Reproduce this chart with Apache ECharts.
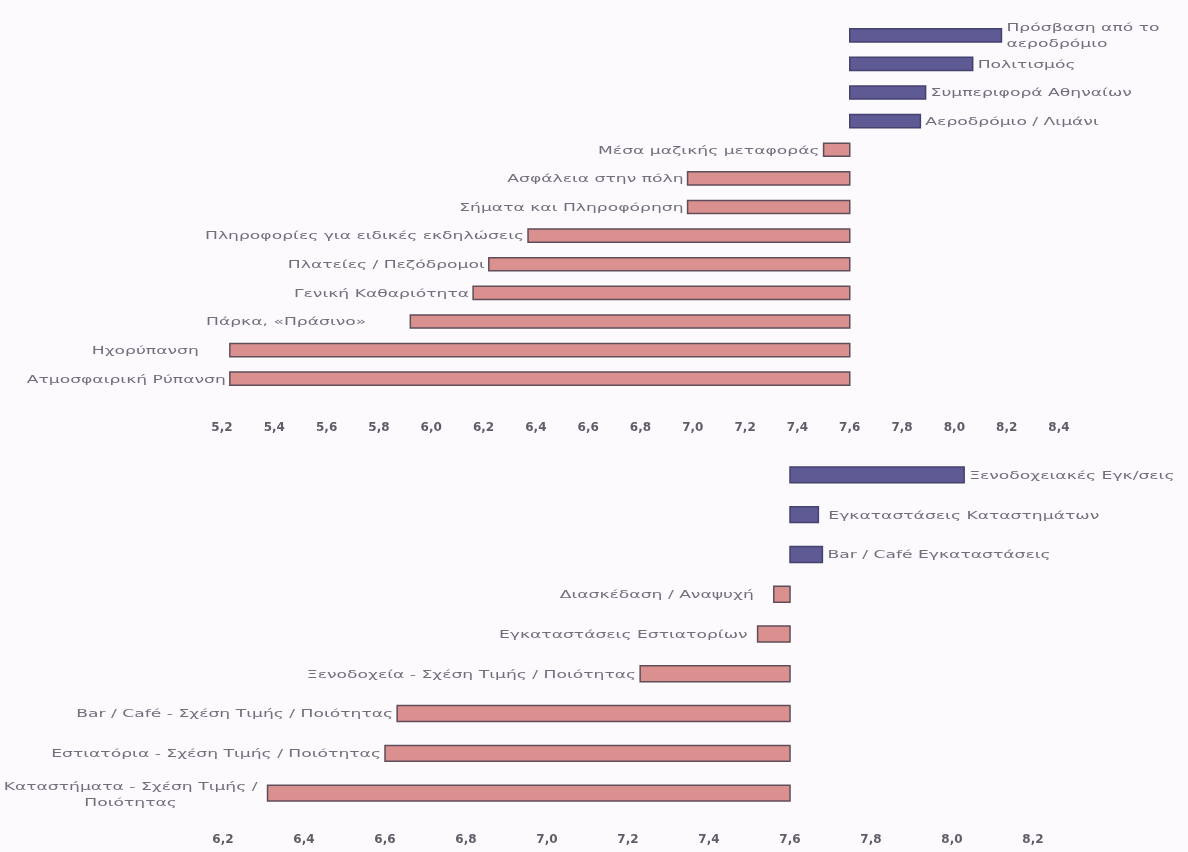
<!DOCTYPE html>
<html>
<head>
<meta charset="utf-8">
<script src="https://cdn.jsdelivr.net/npm/echarts@6/dist/echarts.min.js"></script>
<style>
  html, body { margin: 0; padding: 0; background: #fdfafd; }
  #chart { width: 1188px; height: 852px; }
</style>
</head>
<body>
<div id="chart"></div>
<script>
// Satisfaction scores, bars diverge from the 7.6 reference value
const BASE = 7.6;

const cityCategories = [
  'Πρόσβαση από το\nαεροδρόμιο',
  'Πολιτισμός',
  'Συμπεριφορά Αθηναίων',
  'Αεροδρόμιο / Λιμάνι',
  'Μέσα μαζικής μεταφοράς',
  'Ασφάλεια στην πόλη',
  'Σήματα και Πληροφόρηση',
  'Πληροφορίες για ειδικές εκδηλώσεις',
  'Πλατείες / Πεζόδρομοι',
  'Γενική Καθαριότητα',
  'Πάρκα, «Πράσινο»',
  'Ηχορύπανση',
  'Ατμοσφαιρική Ρύπανση'
];
const cityValues = [8.18, 8.07, 7.89, 7.87, 7.50, 6.98, 6.98, 6.37, 6.22, 6.16, 5.92, 5.23, 5.23];

const serviceCategories = [
  'Ξενοδοχειακές Εγκ/σεις',
  'Εγκαταστάσεις Καταστημάτων',
  'Bar / Café Εγκαταστάσεις',
  'Διασκέδαση / Αναψυχή',
  'Εγκαταστάσεις Εστιατορίων',
  'Ξενοδοχεία - Σχέση Τιμής / Ποιότητας',
  'Bar / Café - Σχέση Τιμής / Ποιότητας',
  'Εστιατόρια - Σχέση Τιμής / Ποιότητας',
  'Καταστήματα - Σχέση Τιμής /\nΠοιότητας'
];
const serviceValues = [8.03, 7.67, 7.68, 7.56, 7.52, 7.23, 6.63, 6.60, 6.31];

const cityTicks = { min: 5.2, max: 8.4, interval: 0.2 };
const serviceTicks = { min: 6.2, max: 8.2, interval: 0.2 };

// Layout: a few labels sit further from their bar than the default gap
const labelGap = {
  'Πάρκα, «Πράσινο»': 44,
  'Ηχορύπανση': 31,
  'Διασκέδαση / Αναψυχή': 20,
  'Εγκαταστάσεις Εστιατορίων': 10,
  'Εγκαταστάσεις Καταστημάτων': 10,
  'Καταστήματα - Σχέση Τιμής /\nΠοιότητας': 10
};

const ABOVE = { fill: '#5d5a94', stroke: '#45426f' };
const BELOW = { fill: '#d9908e', stroke: '#5f4e5a' };
const LABEL_FONT = '11px "DejaVu Sans"';
const LABEL_COLOR = '#716f7c';
const LABEL_STRETCH = 1.56;

const measureCtx = document.createElement('canvas').getContext('2d');
function blockWidth(text) {
  measureCtx.font = LABEL_FONT;
  return Math.max.apply(null, text.split('\n').map(s => measureCtx.measureText(s).width)) * LABEL_STRETCH;
}

function makeRenderer(categories, thickness) {
  return function (params, api) {
    const v = api.value(0);
    const idx = api.value(1);
    const pv = api.coord([v, idx]);
    const pb = api.coord([BASE, idx]);
    const h = api.size([0, 1])[1] * thickness;
    const up = v >= BASE;
    const x0 = Math.min(pv[0], pb[0]);
    const w = Math.abs(pv[0] - pb[0]);
    const c = up ? ABOVE : BELOW;
    const text = categories[idx];
    const multi = text.indexOf('\n') >= 0;
    const gap = labelGap[text] != null ? labelGap[text] : (up ? 5 : 4);
    let tx, align;
    if (up) { tx = pv[0] + gap; align = 'left'; }
    else if (multi) { tx = pv[0] - gap - blockWidth(text) / 2; align = 'center'; }
    else { tx = pv[0] - gap; align = 'right'; }
    return {
      type: 'group',
      children: [
        {
          type: 'rect',
          shape: { x: x0, y: pv[1] - h / 2, width: w, height: h },
          style: { fill: c.fill, stroke: c.stroke, lineWidth: 1.5 }
        },
        {
          type: 'text',
          x: tx,
          y: pv[1] + (multi && !up ? 2 : 1),
          scaleX: LABEL_STRETCH,
          style: {
            text: text,
            font: LABEL_FONT,
            fill: LABEL_COLOR,
            align: align,
            verticalAlign: 'middle',
            lineHeight: 16
          }
        }
      ]
    };
  };
}

const commaFmt = v => v.toFixed(1).replace('.', ',');

const axisLabelStyle = {
  color: '#5f5d68',
  fontFamily: 'DejaVu Sans',
  fontWeight: 'bold',
  fontSize: 12,
  formatter: commaFmt
};

const chart = echarts.init(document.getElementById('chart'));
chart.setOption({
  backgroundColor: '#fdfafd',
  animation: false,
  grid: [
    { left: 222, width: 837, top: 21, height: 372 },
    { left: 223, width: 810, top: 455, height: 358 }
  ],
  xAxis: [
    {
      gridIndex: 0, type: 'value',
      min: cityTicks.min, max: cityTicks.max, interval: cityTicks.interval,
      axisLine: { show: false }, axisTick: { show: false }, splitLine: { show: false },
      axisLabel: Object.assign({ margin: 29 }, axisLabelStyle)
    },
    {
      gridIndex: 1, type: 'value',
      min: serviceTicks.min, max: serviceTicks.max, interval: serviceTicks.interval,
      axisLine: { show: false }, axisTick: { show: false }, splitLine: { show: false },
      axisLabel: Object.assign({ margin: 21 }, axisLabelStyle)
    }
  ],
  yAxis: [
    {
      gridIndex: 0, type: 'category', inverse: true,
      data: cityCategories.map((_, i) => i),
      show: false
    },
    {
      gridIndex: 1, type: 'category', inverse: true,
      data: serviceCategories.map((_, i) => i),
      show: false
    }
  ],
  series: [
    {
      type: 'custom',
      xAxisIndex: 0, yAxisIndex: 0,
      renderItem: makeRenderer(cityCategories, 0.46),
      data: cityValues.map((v, i) => [v, i])
    },
    {
      type: 'custom',
      xAxisIndex: 1, yAxisIndex: 1,
      renderItem: makeRenderer(serviceCategories, 0.4),
      data: serviceValues.map((v, i) => [v, i])
    }
  ]
});
</script>
</body>
</html>
